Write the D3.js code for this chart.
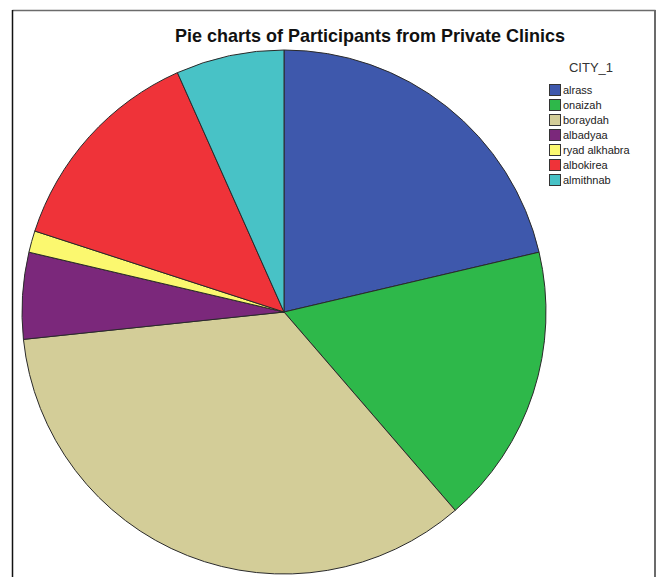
<!DOCTYPE html>
<html>
<head>
<meta charset="utf-8">
<script src="https://cdn.jsdelivr.net/npm/d3@7"></script>
<style>
  body { margin: 0; background: #fff; }
  svg { display: block; font-family: "Liberation Sans", Arial, sans-serif; }
</style>
</head>
<body>
<svg id="chart" width="658" height="577"></svg>
<script>
// data (counts, N = 75)
const cities = ['alrass', 'onaizah', 'boraydah', 'albadyaa', 'ryad alkhabra', 'albokirea', 'almithnab'];
const counts = [16, 13, 26, 4, 1, 10, 5];
const sliceColors = ['#3e58ac', '#2eb84a', '#d3cd98', '#7b287b', '#fbf86f', '#ef3339', '#48c2c6'];

const titleText = 'Pie charts of Participants from Private Clinics';
const legendTitle = 'CITY_1';

const svg = d3.select('#chart');

// frame
svg.append('line').attr('x1', 12.5).attr('y1', 10.5).attr('x2', 655.5).attr('y2', 10.5)
  .attr('stroke', '#6b6b6b').attr('stroke-width', 1.5);
svg.append('line').attr('x1', 12.5).attr('y1', 10).attr('x2', 12.5).attr('y2', 577)
  .attr('stroke', '#111').attr('stroke-width', 1.5);
svg.append('line').attr('x1', 655).attr('y1', 10).attr('x2', 655).attr('y2', 577)
  .attr('stroke', '#6b6b6b').attr('stroke-width', 2);

// title
const title = svg.append('text')
  .attr('x', 370).attr('y', 42)
  .attr('text-anchor', 'middle')
  .attr('font-weight', 'bold')
  .attr('font-size', 16)
  .attr('fill', '#111')
  .text(titleText);
// fit to the width seen in the picture
const tw = title.node().getComputedTextLength();
title.attr('font-size', 16 * 390 / tw);

// pie
const cx = 284, cy = 312, radius = 262;
const pie = d3.pie().sort(null).value(d => d);
const arc = d3.arc().innerRadius(0).outerRadius(radius);
const color = d3.scaleOrdinal().domain(cities).range(sliceColors);

const g = svg.append('g').attr('transform', `translate(${cx},${cy})`);
g.selectAll('path')
  .data(pie(counts))
  .enter()
  .append('path')
  .attr('d', arc)
  .attr('fill', (d, i) => color(cities[i]))
  .attr('stroke', '#2a2a2a')
  .attr('stroke-width', 1)
  .attr('stroke-linejoin', 'round');

// legend
const lg = svg.append('g').attr('transform', 'translate(549,0)');
lg.append('text')
  .attr('x', 42).attr('y', 72)
  .attr('text-anchor', 'middle')
  .attr('font-size', 13)
  .attr('fill', '#333')
  .text(legendTitle);

const rowY = d3.scalePoint().domain(cities).range([90, 180]);
const rows = lg.selectAll('.row')
  .data(cities)
  .enter()
  .append('g')
  .attr('class', 'row')
  .attr('transform', d => `translate(0,${rowY(d)})`);
rows.append('rect')
  .attr('x', 0.5).attr('y', -5.5)
  .attr('width', 11).attr('height', 11)
  .attr('fill', d => color(d))
  .attr('stroke', '#333').attr('stroke-width', 1);
rows.append('text')
  .attr('x', 14).attr('y', 4)
  .attr('font-size', 11)
  .attr('fill', '#222')
  .text(d => d);
</script>
</body>
</html>
